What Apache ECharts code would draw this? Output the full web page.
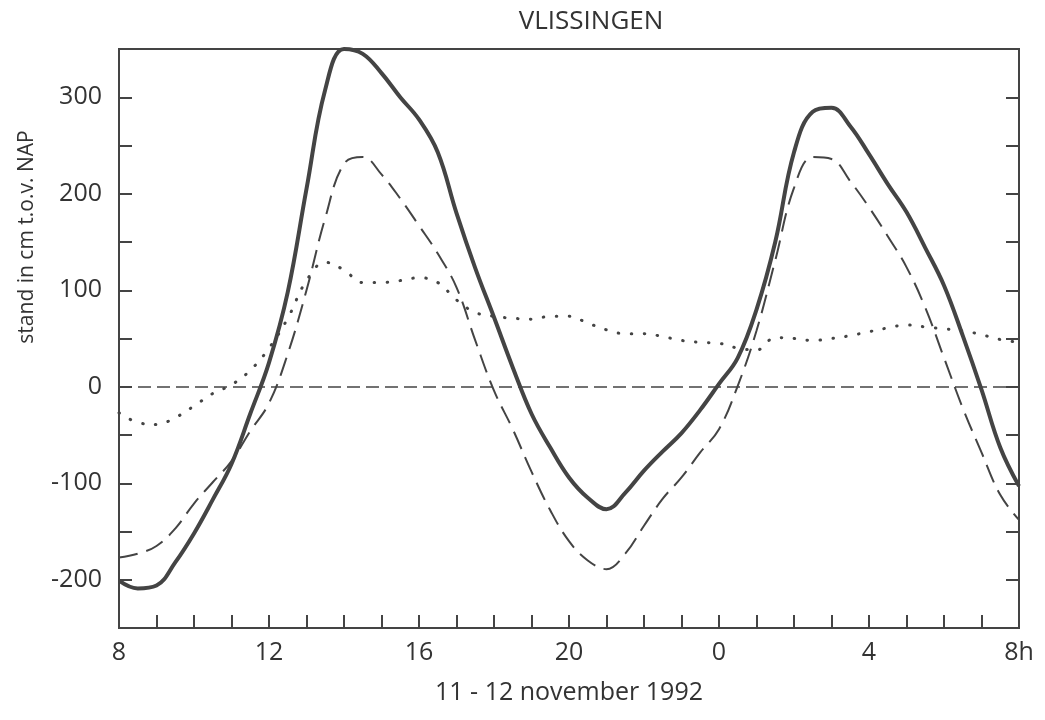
<!DOCTYPE html>
<html>
<head>
<meta charset="utf-8">
<title>Vlissingen</title>
<script src="https://cdn.jsdelivr.net/npm/echarts@6/dist/echarts.min.js"></script>
<style>
    html, body { margin: 0; padding: 0; background: #fff; }
    #chart { width: 1045px; height: 720px; }
</style>
</head>
<body>
<div id="chart"></div>
<script>
// uren vanaf 11 nov 8h (8 .. 32), halfuurlijks
const hours = [
    8, 8.5, 9, 9.5, 10, 10.5, 11, 11.5, 12, 12.5, 13, 13.5, 14, 14.5, 15, 15.5,
    16, 16.5, 17, 17.5, 18, 18.5, 19, 19.5, 20, 20.5, 21, 21.5, 22, 22.5, 23, 23.5,
    24, 24.5, 25, 25.5, 26, 26.5, 27, 27.5, 28, 28.5, 29, 29.5, 30, 30.5, 31, 31.5, 32
];
// gemeten waterstand
const measured = [
    -201, -209, -206, -182, -152, -117, -80, -28, 25, 98, 205, 308, 350, 345, 325, 300,
    277, 243, 180, 123, 72, 20, -28, -63, -94, -115, -127, -110, -87, -67, -48, -24,
    3, 30, 80, 150, 243, 285, 289, 270, 241, 210, 181, 144, 105, 53, -3, -63, -103
];
// astronomisch getij
const tide = [
    -177, -173, -165, -147, -121, -99, -77, -46, -17, 34, 100, 175, 231, 238, 220, 195,
    167, 138, 103, 48, -4, -44, -88, -128, -160, -180, -189, -173, -144, -116, -94, -68,
    -44, 1, 58, 131, 206, 238, 236, 213, 186, 156, 124, 82, 30, -22, -68, -112, -138
];
// opzet
const surge = [
    -27, -37, -39, -32, -20, -7, 2, 17, 40, 71, 110, 129, 121, 108, 108, 110,
    113, 108, 90, 77, 73, 71, 70, 73, 73, 66, 59, 55, 55, 52, 48, 46,
    45, 40, 38, 51, 50, 48, 50, 53, 57, 61, 64, 62, 60, 58, 54, 49, 46
];

const axisColor = "#444";
const textColor = "#333";
const font = "'Open Sans', 'Noto Sans', sans-serif";

const pairs = (vals) => hours.map((h, i) => [h, vals[i]]);

const chart = echarts.init(document.getElementById("chart"));
chart.setOption({
    animation: false,
    backgroundColor: "#fff",
    textStyle: { fontFamily: font },
    title: {
        text: "VLISSINGEN",
        left: 586,
        top: 4,
        textAlign: "center",
        textStyle: { fontFamily: font, fontSize: 26, fontWeight: "normal", color: textColor },
    },
    grid: {
        left: 119,
        right: 26,
        top: 49,
        bottom: 92,
        show: true,
        borderColor: axisColor,
        borderWidth: 2,
    },
    xAxis: {
        type: "value",
        min: 8,
        max: 32,
        interval: 4,
        name: "11 - 12 november 1992",
        nameLocation: "middle",
        nameGap: 52,
        nameTextStyle: { fontFamily: font, fontSize: 25, color: textColor },
        axisLine: { show: true, onZero: false, lineStyle: { color: axisColor, width: 2 } },
        axisTick: { show: true, inside: true, length: 13, lineStyle: { color: axisColor, width: 2 } },
        minorTick: { show: true, splitNumber: 4, length: 13, lineStyle: { color: axisColor, width: 2 } },
        splitLine: { show: false },
        axisLabel: {
            margin: 12,
            fontSize: 25,
            color: textColor,
            fontFamily: font,
            formatter: (v) => (v === 32 ? "8h" : String(v % 24)),
        },
    },
    yAxis: [
        {
            type: "value",
            min: -250,
            max: 350,
            interval: 50,
            axisLine: { show: true, onZero: false, lineStyle: { color: axisColor, width: 2 } },
            axisTick: { show: true, inside: true, length: 13, lineStyle: { color: axisColor, width: 2 } },
            splitLine: { show: false },
            axisLabel: {
                margin: 17,
                fontSize: 25,
                color: textColor,
                fontFamily: font,
                formatter: (v) => (v % 100 === 0 ? String(v) : ""),
            },
        },
        {
            type: "value",
            position: "right",
            min: -250,
            max: 350,
            interval: 50,
            axisLine: { show: true, onZero: false, lineStyle: { color: axisColor, width: 2 } },
            axisTick: { show: true, inside: true, length: 13, lineStyle: { color: axisColor, width: 2 } },
            splitLine: { show: false },
            axisLabel: { show: false },
        },
    ],
    graphic: [
        {
            type: "text",
            x: 27,
            y: 237,
            rotation: Math.PI / 2,
            style: {
                text: "stand in cm t.o.v. NAP",
                fontFamily: font,
                fontSize: 21,
                fill: textColor,
                align: "center",
                verticalAlign: "middle",
            },
        },
    ],
    series: [
        {
            name: "opzet",
            type: "line",
            data: pairs(surge),
            smooth: 0.4,
            showSymbol: false,
            lineStyle: { color: "#444", width: 3, type: [0.5, 12.5], cap: "round" },
            markLine: {
                silent: true,
                symbol: "none",
                label: { show: false },
                lineStyle: { color: "#444", width: 1.5, type: [13, 6] },
                data: [{ yAxis: 0 }],
            },
        },
        {
            name: "astronomisch",
            type: "line",
            data: pairs(tide),
            smooth: 0.4,
            showSymbol: false,
            lineStyle: { color: "#444", width: 2, type: [19, 9] },
        },
        {
            name: "gemeten",
            type: "line",
            data: pairs(measured),
            smooth: 0.4,
            showSymbol: false,
            lineStyle: { color: "#444", width: 4 },
        },
    ],
});
</script>
</body>
</html>
